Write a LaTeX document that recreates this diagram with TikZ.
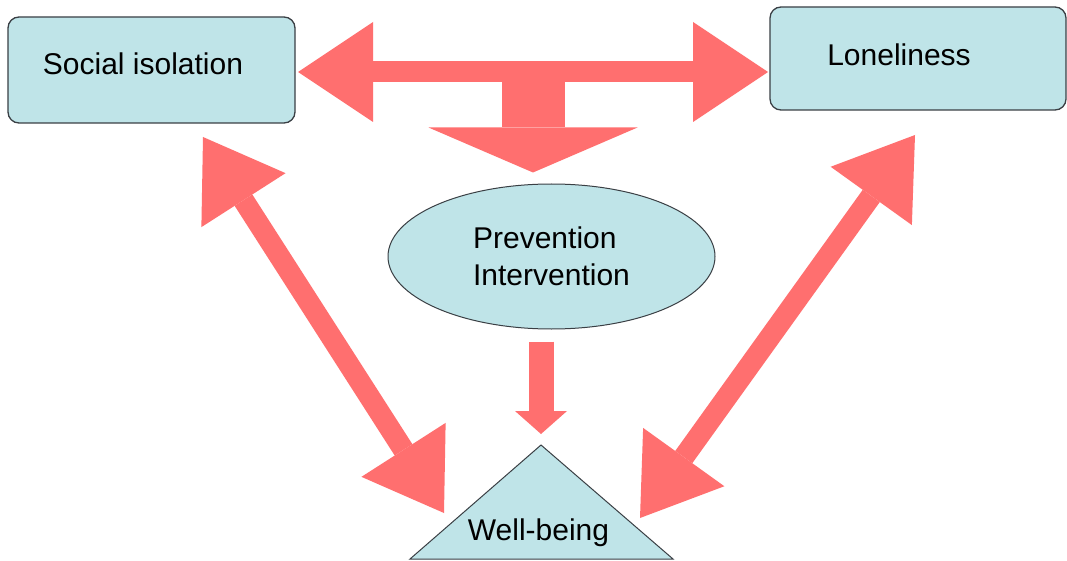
\documentclass[tikz,border=0pt]{standalone}
\usepackage{fontspec}
\setmainfont{Liberation Sans}
\usepackage{tikz}
\usetikzlibrary{calc,arrows.meta,shapes.geometric}
\definecolor{bg}{HTML}{FFFFFF}
\definecolor{cell}{HTML}{BFE4E8}
\definecolor{rim}{HTML}{3A3F44}
\definecolor{salmon}{HTML}{FF6F6F}
\tikzset{
  box/.style={draw=rim, fill=cell, line width=1.3pt, rounded corners=11pt, inner sep=0pt},
  oval/.style={ellipse, draw=rim, fill=cell, line width=1pt, inner sep=0pt},
  tri/.style={draw=rim, fill=cell, line width=1pt, line join=miter},
  lab/.style={text=black, inner sep=0pt, font=\fontsize{30}{37}\selectfont},
  fat/.style={draw=salmon, line width=21pt},
  twoway/.style={fat, {Triangle[length=75pt,width=100pt,line width=0pt]}-{Triangle[length=75pt,width=100pt,line width=0pt]}},
}

\begin{document}
\begin{tikzpicture}[x=1pt, y=-1pt]
  \useasboundingbox[fill=bg] (0,0) rectangle (1067,561);

  % boxes
  \node[box, minimum width=287pt, minimum height=106pt] (si) at (151.5,70) {};
  \node[lab] at (143,64) {Social isolation};
  \node[box, minimum width=296pt, minimum height=103pt] (lon) at (918,58.5) {};
  \node[lab] at (899,55) {Loneliness};

  % middle ellipse
  \node[oval, minimum width=327pt, minimum height=145pt, align=left, lab] (pi) at (551.5,256.5) {Prevention\\Intervention};

  % well-being triangle
  \coordinate (wbtop) at (541,445);
  \draw[tri] (410,559) -- (wbtop) -- (673,559) -- cycle;
  \node[lab] (wb) at (538.5,533) {Well-being};

  % T-shaped arrow on top
  \coordinate (tl) at (298,72);
  \coordinate (tr) at (768,72);
  \coordinate (tmid) at (533,61);
  \draw[twoway] (tl) -- (tr);
  \draw[draw=salmon, line width=63pt, -{Triangle[length=45pt,width=209pt,line width=0pt]},
        shorten >=11pt] (tmid) -- (tmid |- pi.north);

  % ellipse to triangle
  \draw[draw=salmon, line width=25pt, -{Triangle[length=23pt,width=52pt,line width=0pt]},
        shorten <=12pt, shorten >=11pt] (wbtop |- pi.south) -- (wbtop);

  % diagonal arrows
  \coordinate (siend) at (203,137);
  \coordinate (wbl) at (444,513);
  \coordinate (lonend) at (915,135);
  \coordinate (wbr) at (640,518);
  \draw[twoway] (siend) -- (wbl);
  \draw[twoway] (lonend) -- (wbr);
\end{tikzpicture}
\end{document}
